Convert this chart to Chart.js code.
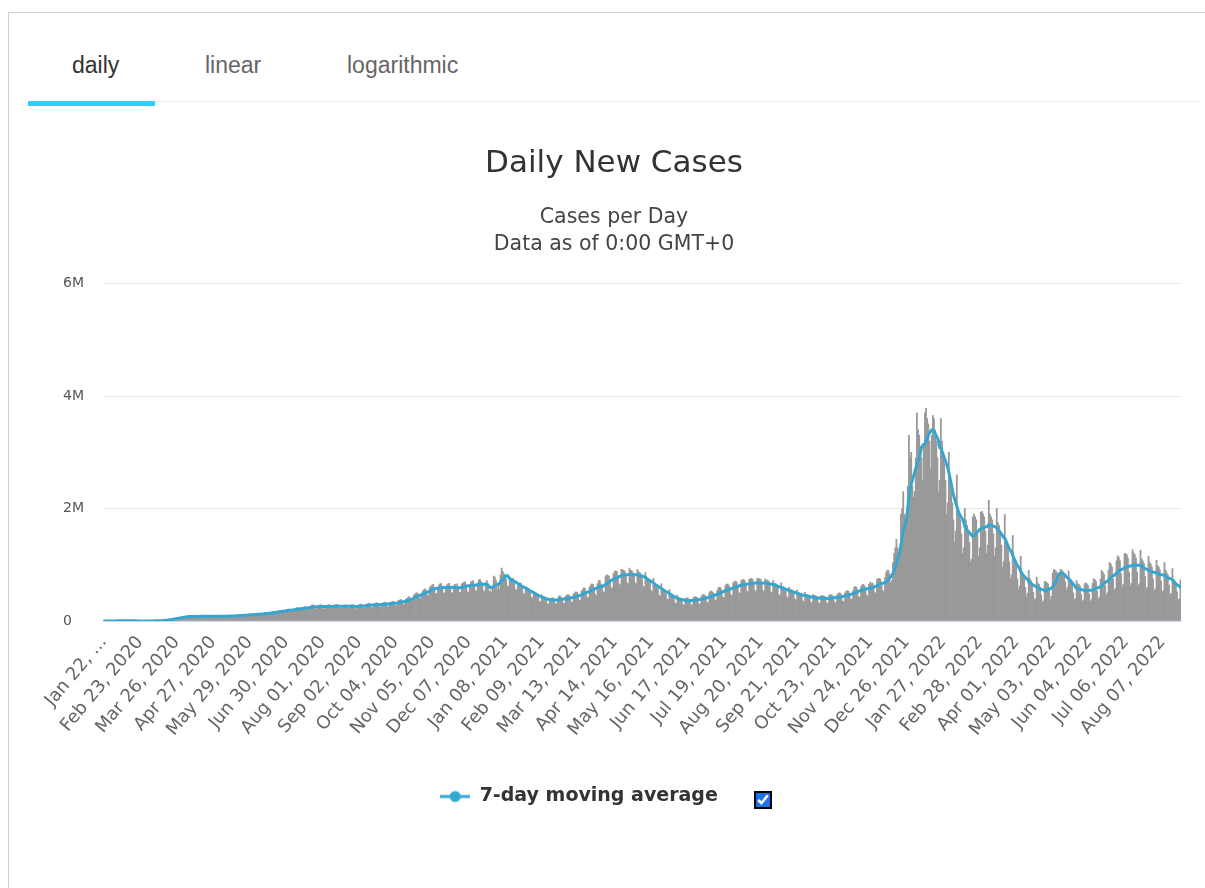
<!DOCTYPE html>
<html>
<head>
<meta charset="utf-8">
<script src="https://cdn.jsdelivr.net/npm/chart.js@4.4.0/dist/chart.umd.min.js"></script>
<style>
  html, body { margin: 0; padding: 0; background: #fff; }
  body { width: 1205px; height: 888px; overflow: hidden; position: relative; }
  .frame { position: absolute; left: 8px; top: 12px; width: 1300px; height: 1000px; border: 1px solid #cfcfcf; }
  .tabs { position: absolute; left: 28px; top: 0; width: 1172px; height: 101px; border-bottom: 1px solid #ececec; }
  .tab { position: absolute; top: 52px; font: 23px "Liberation Sans", Arial, sans-serif; color: #666; }
  .tab.active { color: #333; }
  .underline { position: absolute; left: 28px; top: 101px; width: 127px; height: 5px; background: #33ccff; }
  #wrap { position: absolute; left: 28px; top: 120px; width: 1170px; height: 696px; }
  #check { position: absolute; left: 755px; top: 792px; width: 16px; height: 16px; margin: 0; accent-color: #1a73e8; outline: 2px solid #000; outline-offset: -1px; border-radius: 3px; }
</style>
</head>
<body>
<div class="frame"></div>
<div class="tabs"></div>
<div class="tab active" style="left:72px">daily</div>
<div class="tab" style="left:205px">linear</div>
<div class="tab" style="left:347px">logarithmic</div>
<div class="underline"></div>
<div id="wrap"><canvas id="myChart"></canvas></div>
<input id="check" type="checkbox" checked>
<script>
// daily new cases, thousands, one row per week starting Wed Jan 22 2020
var weeks2020 = [
  [0.6,0.1,0.3,0.5,0.7,0.8,1.8], [1.5,1.7,2.1,2.6,2.8,3.2,3.9], [3.7,3.2,3.4,2.7,2.6,2.5,2.0],
  [2.0,15.1,6.5,2.7,2.1,2.0,1.9], [0.5,0.6,1.0,1.1,1.1,0.8,0.9], [1.0,1.1,1.5,1.9,1.8,2.0,2.0],
  [2.4,2.8,3.8,4.1,3.9,3.9,4.3], [7,8,11,11,12,15,19], [27,30,32,34,36,40,42],
  [50,63,64,62,59,61,66], [77,80,87,83,80,74,76], [84,83,87,84,74,72,76],
  [86,102,86,83,77,73,80], [84,87,93,85,76,74,80], [85,90,92,86,78,76,82],
  [90,93,96,88,78,79,86], [90,97,100,95,87,89,94], [104,108,110,106,99,95,102],
  [108,118,125,121,106,98,114], [126,132,133,131,113,107,128], [137,140,148,146,136,124,148],
  [152,164,172,170,150,150,168], [174,190,190,184,166,162,188], [206,210,208,196,182,178,210],
  [220,232,240,222,204,196,230], [238,252,256,240,216,212,248], [272,286,282,248,214,216,262],
  [280,292,284,256,216,210,260], [278,286,290,262,220,228,262], [282,290,292,258,222,226,266],
  [276,280,290,262,226,224,268], [282,290,282,256,218,222,262], [290,296,300,264,228,230,296],
  [300,310,318,290,240,238,300], [310,324,322,296,246,252,312], [318,330,336,306,254,256,330],
  [334,346,350,320,270,276,356], [366,378,382,348,292,302,384], [404,420,432,406,348,356,460],
  [478,498,500,480,398,410,500], [540,560,570,540,450,462,600], [620,640,650,590,490,480,600],
  [640,660,665,610,500,490,610], [640,660,670,610,500,500,620], [650,610,660,600,510,500,660],
  [670,690,690,640,520,510,650], [690,710,720,650,540,530,680], [730,740,700,650,540,520,680],
  [720,660,520,540,500,600,800]
];
var weeks2021 = [
  [780,720,560,640,560,820,940], [880,840,820,740,620,620,760], [740,760,760,680,560,540,620],
  [660,680,660,590,490,470,580], [570,580,560,500,420,400,520], [480,490,470,420,350,330,470],
  [420,430,400,380,310,290,400], [400,410,410,380,310,300,400], [440,450,420,400,320,300,440],
  [460,470,460,420,340,330,480], [500,520,510,460,370,360,530], [560,590,580,530,420,410,600],
  [640,660,650,600,480,440,660], [720,720,660,640,520,500,790], [820,810,800,740,590,580,840],
  [880,890,880,800,660,640,920], [910,900,880,820,680,660,940], [900,900,860,810,680,660,920],
  [880,860,840,770,620,600,860], [760,740,740,680,540,520,760], [650,640,630,570,460,440,660],
  [560,540,520,480,390,380,560], [460,440,420,400,320,310,460], [410,410,390,370,290,280,400],
  [410,410,390,370,290,280,410], [430,430,420,390,300,300,430], [470,470,460,430,330,320,500],
  [530,530,510,480,370,370,540], [600,600,590,540,420,410,620], [650,660,640,590,460,450,680],
  [700,710,690,640,500,490,720], [730,740,720,660,530,510,740], [750,760,740,680,540,520,760],
  [750,750,740,680,540,520,750], [720,730,710,650,520,500,720], [670,670,650,600,470,450,680],
  [600,610,590,540,430,410,600], [550,560,540,500,390,370,550], [500,500,490,450,360,340,510],
  [470,470,460,420,330,320,470], [450,450,440,410,320,310,450], [440,450,440,400,320,310,460],
  [460,470,450,420,330,320,460], [490,500,490,450,350,340,500], [530,540,530,490,390,380,540],
  [600,610,600,550,430,420,610], [640,650,630,590,460,440,650], [690,660,680,640,500,500,740],
  [750,760,740,680,540,520,770], [860,900,900,840,680,720,1040], [1200,1300,1450,1300,1050,1250,1900],
  [2000,2300,1900,1700,1800,2400,3300]
];
var weeks2022 = [
  [2900,3000,2400,2200,2300,2900,3700], [3400,3300,3100,2900,2500,3100,3700], [3780,3600,3500,3200,2700,3300,3650],
  [3600,3400,3200,2900,2300,2500,3600], [3200,3000,2800,2500,1900,2100,3000], [2500,2300,2100,1800,1400,1600,2600],
  [2000,1900,1800,1550,1200,1300,2000], [1800,1700,1600,1400,1050,1100,1850], [1900,1850,1800,1550,1150,1300,1930],
  [1950,1900,1850,1600,1200,1350,2150], [1900,1850,1800,1550,1150,1300,2000], [1750,1700,1600,1350,950,1050,1890],
  [1450,1350,1250,1050,750,820,1520], [1100,1020,960,750,560,620,1150], [880,820,780,600,430,490,900],
  [760,720,660,510,370,400,780], [680,650,600,460,330,360,700], [700,680,660,560,380,440,850],
  [920,900,880,850,720,760,920], [900,880,800,700,550,600,890], [720,690,650,500,380,400,720],
  [660,650,620,470,350,370,660], [680,660,630,480,350,380,670], [750,730,700,530,390,420,750],
  [900,870,830,640,460,500,910], [1040,1010,960,750,540,580,1070], [1160,1130,1070,840,600,650,1200],
  [1200,1180,1120,870,620,670,1270], [1210,1180,1120,870,630,660,1260], [1100,1070,1020,790,570,600,1150],
  [1040,1010,960,750,540,570,1080], [990,960,910,710,520,540,1040], [900,860,820,640,470,490,930],
  [740,700,670,520,380,390,730]
];
var tickLabels = [
  "Jan 22, ...", "Feb 23, 2020", "Mar 26, 2020", "Apr 27, 2020", "May 29, 2020", "Jun 30, 2020",
  "Aug 01, 2020", "Sep 02, 2020", "Oct 04, 2020", "Nov 05, 2020", "Dec 07, 2020", "Jan 08, 2021",
  "Feb 09, 2021", "Mar 13, 2021", "Apr 14, 2021", "May 16, 2021", "Jun 17, 2021", "Jul 19, 2021",
  "Aug 20, 2021", "Sep 21, 2021", "Oct 23, 2021", "Nov 24, 2021", "Dec 26, 2021", "Jan 27, 2022",
  "Feb 28, 2022", "Apr 01, 2022", "May 03, 2022", "Jun 04, 2022", "Jul 06, 2022", "Aug 07, 2022"
];
var yTicks = [0, 2000000, 4000000, 6000000];

var daily = [];
weeks2020.concat(weeks2021, weeks2022).forEach(function (w) {
  w.forEach(function (v) { daily.push(v * 1000); });
});

// category labels = calendar days from Jan 22 2020
var months = ["Jan","Feb","Mar","Apr","May","Jun","Jul","Aug","Sep","Oct","Nov","Dec"];
var labels = [];
for (var i = 0; i < daily.length; i++) {
  var d = new Date(Date.UTC(2020, 0, 22 + i));
  labels.push(months[d.getUTCMonth()] + " " + String(d.getUTCDate()).padStart(2, "0") + ", " + d.getUTCFullYear());
}

// 7-day moving average of the daily values
var avg7 = daily.map(function (v, i) {
  var s = daily.slice(Math.max(0, i - 6), i + 1);
  return s.reduce(function (a, b) { return a + b; }, 0) / s.length;
});

var lineColor = "#35a6d0";
var marker = document.createElement("canvas");
marker.width = 30; marker.height = 14;
var mctx = marker.getContext("2d");
mctx.strokeStyle = lineColor; mctx.lineWidth = 3;
mctx.beginPath(); mctx.moveTo(0, 7); mctx.lineTo(30, 7); mctx.stroke();
mctx.fillStyle = lineColor;
mctx.beginPath(); mctx.arc(15, 7, 5.5, 0, Math.PI * 2); mctx.fill();

// nudge titles and legend sideways (legend leaves room for the checkbox)
var boxShift = {
  id: "boxShift",
  afterLayout: function (chart) {
    chart.boxes.forEach(function (b) {
      if (b === chart.legend) {
        b.left -= 43; b.right -= 43;
      } else if (b.options && b.options.text && !b.axis) {
        b.left -= 8; b.right -= 8;
      }
    });
  },
};

var ctx = document.getElementById("myChart").getContext("2d");
var myChart = new Chart(ctx, {
  data: {
    labels: labels,
    datasets: [
      {
        type: "line",
        label: "7-day moving average",
        data: avg7,
        borderColor: lineColor,
        backgroundColor: lineColor,
        borderWidth: 3,
        pointRadius: 0,
        tension: 0.3,
        order: 0,
      },
      {
        type: "bar",
        label: "Daily Cases",
        data: daily,
        backgroundColor: "#999999",
        barPercentage: 1,
        categoryPercentage: 1,
        order: 1,
      },
    ],
  },
  plugins: [boxShift],
  options: {
    responsive: true,
    maintainAspectRatio: false,
    animation: false,
    layout: { padding: { right: 17, left: 35, top: 0, bottom: 0 } },
    plugins: {
      tooltip: { enabled: false },
      title: {
        display: true,
        text: "Daily New Cases",
        color: "#333",
        font: { family: "DejaVu Sans", size: 31, weight: "normal", lineHeight: 1.2 },
        padding: { top: 25, bottom: 22 },
      },
      subtitle: {
        display: true,
        text: ["Cases per Day", "Data as of 0:00 GMT+0"],
        color: "#444",
        font: { family: "DejaVu Sans", size: 20.5, lineHeight: 1.3 },
        padding: { top: 0, bottom: 26 },
      },
      legend: {
        position: "bottom",
        labels: {
          filter: function (item) { return item.datasetIndex === 0; },
          usePointStyle: true,
          pointStyle: marker,
          pointStyleWidth: 30,
          boxHeight: 14,
          padding: 16,
          color: "#333",
          font: { family: "DejaVu Sans", size: 19, weight: "bold" },
          generateLabels: function (chart) {
            var items = Chart.defaults.plugins.legend.labels.generateLabels(chart);
            items.forEach(function (it) { it.pointStyle = marker; });
            return items;
          },
        },
      },
    },
    scales: {
      x: {
        grid: { display: false },
        border: { color: "#ccd6eb" },
        ticks: {
          autoSkip: false,
          minRotation: 50,
          maxRotation: 50,
          color: "#666",
          font: { family: "DejaVu Sans", size: 18 },
          callback: function (val, index) {
            return index % 32 === 0 ? tickLabels[index / 32] : null;
          },
        },
        afterFit: function (scale) { scale.height = 150; },
      },
      y: {
        min: 0,
        max: 6000000,
        afterBuildTicks: function (scale) {
          scale.ticks = yTicks.map(function (v) { return { value: v }; });
        },
        grid: { color: "#e6e6e6", drawTicks: false },
        border: { display: false },
        ticks: {
          crossAlign: "far",
          padding: 0,
          color: "#555",
          font: { family: "DejaVu Sans", size: 14 },
          callback: function (v) { return v === 0 ? "0" : v / 1000000 + "M"; },
        },
        afterFit: function (scale) { scale.width = 40; },
      },
    },
  },
});
</script>
</body>
</html>
